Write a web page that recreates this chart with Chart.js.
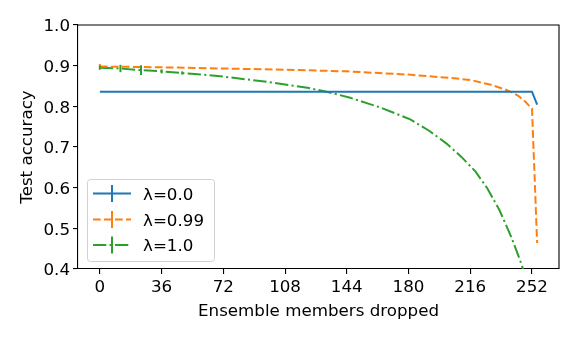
<!DOCTYPE html>
<html><head><meta charset="utf-8">
<script src="https://cdn.jsdelivr.net/npm/chart.js@4/dist/chart.umd.min.js"></script>
<style>html,body{margin:0;padding:0;background:#fff}#wrap{width:581px;height:339px}</style>
</head><body><div id="wrap"><canvas id="c" width="581" height="339"></canvas></div>
<script>
const xTicks = [0, 36, 72, 108, 144, 180, 216, 252];
const yTicks = [0.4, 0.5, 0.6, 0.7, 0.8, 0.9, 1.0];
const seriesLabels = ['λ=0.0', 'λ=0.99', 'λ=1.0'];

const blueX = [0, 36, 72, 108, 144, 180, 216, 252, 255];
const blueY = [0.836, 0.836, 0.836, 0.836, 0.836, 0.836, 0.836, 0.836, 0.804];

const orangeX = [0, 36, 72, 108, 144, 180, 204, 216, 228, 236, 240, 244, 248, 250, 252, 255];
const orangeY = [0.898, 0.896, 0.893, 0.890, 0.886, 0.878, 0.870, 0.865, 0.853, 0.842, 0.835, 0.826, 0.812, 0.803, 0.795, 0.464];

const greenX = [0, 12, 24, 36, 48, 60, 72, 96, 122, 134, 146, 157, 163, 181, 192, 202, 211, 219, 226, 233, 240, 245, 250, 255];
const greenY = [0.895, 0.893, 0.889, 0.886, 0.882, 0.878, 0.873, 0.861, 0.845, 0.834, 0.821, 0.806, 0.798, 0.768, 0.740, 0.709, 0.675, 0.640, 0.598, 0.545, 0.478, 0.422, 0.36, 0.29];

const orangeErrX = [0];
const orangeErr = [0.006];
const greenErrX = [0, 12, 24, 36, 48];
const greenErr = [0.005, 0.009, 0.012, 0.005, 0.004];

const FONT = 'DejaVu Sans';
const FS = 16.7;
const colors = ['#1f77b4', '#ff7f0e', '#2ca02c'];
const dashes = [[], [7.7, 3.3], [13.3, 3.3, 2.1, 3.3]];

function pts(xs, ys) { return xs.map((x, i) => ({x: x, y: ys[i]})); }

const errPlugin = {
  id: 'errbars',
  afterDatasetsDraw(chart) {
    const ctx = chart.ctx, xs = chart.scales.x, ys = chart.scales.y;
    chart.data.datasets.forEach((ds) => {
      if (!ds.errX) return;
      ctx.save();
      ctx.strokeStyle = ds.borderColor; ctx.lineWidth = 2; ctx.setLineDash([]);
      ds.errX.forEach((xv, i) => {
        const p = ds.data.find(d => d.x === xv);
        if (!p) return;
        const px = xs.getPixelForValue(xv);
        ctx.beginPath();
        ctx.moveTo(px, ys.getPixelForValue(p.y - ds.errV[i]));
        ctx.lineTo(px, ys.getPixelForValue(p.y + ds.errV[i]));
        ctx.stroke();
      });
      ctx.restore();
    });
  }
};

const framePlugin = {
  id: 'frame',
  afterDraw(chart) {
    const a = chart.chartArea, ctx = chart.ctx;
    ctx.save();
    ctx.strokeStyle = '#000'; ctx.lineWidth = 1.1;
    ctx.beginPath();
    ctx.moveTo(a.left, a.top); ctx.lineTo(a.right, a.top); ctx.lineTo(a.right, a.bottom);
    ctx.stroke();
    // legend
    const bx = 87.5, by = 179.5, bw = 127, bh = 82, r = 3;
    ctx.beginPath();
    ctx.moveTo(bx + r, by); ctx.lineTo(bx + bw - r, by); ctx.arcTo(bx + bw, by, bx + bw, by + r, r);
    ctx.lineTo(bx + bw, by + bh - r); ctx.arcTo(bx + bw, by + bh, bx + bw - r, by + bh, r);
    ctx.lineTo(bx + r, by + bh); ctx.arcTo(bx, by + bh, bx, by + bh - r, r);
    ctx.lineTo(bx, by + r); ctx.arcTo(bx, by, bx + r, by, r);
    ctx.closePath();
    ctx.fillStyle = 'rgba(255,255,255,0.8)'; ctx.fill();
    ctx.strokeStyle = 'rgba(204,204,204,0.9)'; ctx.lineWidth = 1; ctx.stroke();
    const rows = [193.5, 219.5, 245];
    chart.data.datasets.forEach((ds, i) => {
      const y = rows[i];
      ctx.strokeStyle = ds.borderColor; ctx.lineWidth = 2;
      ctx.setLineDash(ds.borderDash || []);
      ctx.beginPath(); ctx.moveTo(93, y); ctx.lineTo(131, y); ctx.stroke();
      ctx.setLineDash([]);
      ctx.beginPath(); ctx.moveTo(112, y - 8.5); ctx.lineTo(112, y + 8.5); ctx.stroke();
      ctx.fillStyle = '#000'; ctx.font = FS + 'px "' + FONT + '"';
      ctx.textAlign = 'left'; ctx.textBaseline = 'middle';
      ctx.fillText(ds.label, 143, y + 2);
    });
    ctx.restore();
  }
};

new Chart(document.getElementById('c'), {
  type: 'line',
  data: {
    datasets: [
      {label: seriesLabels[0], data: pts(blueX, blueY), borderColor: colors[0], borderDash: dashes[0]},
      {label: seriesLabels[1], data: pts(orangeX, orangeY), borderColor: colors[1], borderDash: dashes[1], errX: orangeErrX, errV: orangeErr},
      {label: seriesLabels[2], data: pts(greenX, greenY), borderColor: colors[2], borderDash: dashes[2], errX: greenErrX, errV: greenErr}
    ].map(d => Object.assign({borderWidth: 2, pointRadius: 0, tension: 0, fill: false, clip: 0}, d))
  },
  options: {
    responsive: false, animation: false, devicePixelRatio: 1,
    layout: {padding: {top: 25, right: 22, bottom: 0, left: 0}},
    plugins: {legend: {display: false}, tooltip: {enabled: false}},
    scales: {
      x: {
        type: 'linear', min: -12.75, max: 267.75,
        afterBuildTicks: s => { s.ticks = xTicks.map(v => ({value: v})); },
        afterFit: s => { s.height = 70; },
        grid: {display: true, drawOnChartArea: false, drawTicks: true, tickLength: 5, color: '#000', lineWidth: 1.1},
        border: {display: true, color: '#000', width: 1.1},
        ticks: {color: '#000', font: {family: FONT, size: FS}, padding: 4, maxRotation: 0, autoSkip: false, callback: v => String(v)},
        title: {display: true, text: 'Ensemble members dropped', color: '#000', font: {family: FONT, size: FS}, padding: {top: 2, bottom: 17}}
      },
      y: {
        type: 'linear', min: 0.4, max: 1.0,
        afterBuildTicks: s => { s.ticks = yTicks.map(v => ({value: v})); },
        afterFit: s => { s.width = 78; },
        grid: {display: true, drawOnChartArea: false, drawTicks: true, tickLength: 5, color: '#000', lineWidth: 1.1},
        border: {display: true, color: '#000', width: 1.1},
        ticks: {color: '#000', font: {family: FONT, size: FS}, padding: 3, labelOffset: 2, autoSkip: false, callback: v => Number(v).toFixed(1)},
        title: {display: true, text: 'Test accuracy', color: '#000', font: {family: FONT, size: FS}, padding: {top: 18, bottom: 0}}
      }
    }
  },
  plugins: [errPlugin, framePlugin]
});
</script></body></html>
